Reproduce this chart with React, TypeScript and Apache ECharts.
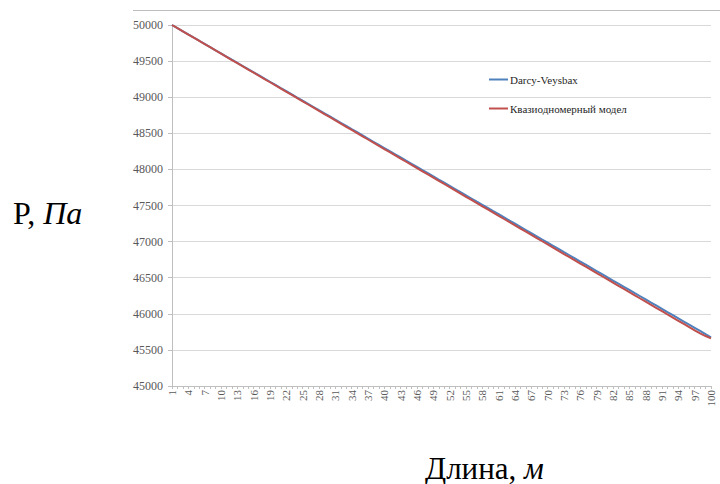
import React, { useEffect, useRef } from "react";
import * as echarts from "echarts";

// Distance along the pipe, m (1..100)
const lengths: string[] = Array.from({ length: 100 }, (_, i) => String(i + 1));

// Pressure, Pa — Darcy–Weisbach solution
const darcyVeysbax: number[] = [
  50000, 49956, 49913, 49869, 49825, 49782, 49738, 49694, 49650, 49607,
  49563, 49519, 49476, 49432, 49388, 49345, 49301, 49257, 49214, 49170,
  49126, 49083, 49039, 48995, 48951, 48908, 48864, 48820, 48777, 48733,
  48689, 48646, 48602, 48558, 48515, 48471, 48427, 48383, 48340, 48296,
  48252, 48209, 48165, 48121, 48078, 48034, 47990, 47947, 47903, 47859,
  47816, 47772, 47728, 47684, 47641, 47597, 47553, 47510, 47466, 47422,
  47379, 47335, 47291, 47248, 47204, 47160, 47116, 47073, 47029, 46985,
  46942, 46898, 46854, 46811, 46767, 46723, 46680, 46636, 46592, 46548,
  46505, 46461, 46417, 46374, 46330, 46286, 46243, 46199, 46155, 46112,
  46068, 46024, 45981, 45937, 45893, 45849, 45806, 45762, 45718, 45675,
];

// Pressure, Pa — quasi-one-dimensional model
const kvaziModel: number[] = [
  50000, 49956, 49912, 49868, 49824, 49780, 49736, 49692, 49648, 49604,
  49560, 49515, 49471, 49427, 49383, 49339, 49295, 49251, 49207, 49163,
  49119, 49075, 49031, 48987, 48943, 48899, 48855, 48811, 48767, 48723,
  48679, 48634, 48590, 48546, 48502, 48458, 48414, 48370, 48326, 48282,
  48238, 48194, 48150, 48106, 48062, 48018, 47974, 47930, 47886, 47842,
  47798, 47753, 47709, 47665, 47621, 47577, 47533, 47489, 47445, 47401,
  47357, 47313, 47269, 47225, 47181, 47137, 47093, 47049, 47005, 46961,
  46917, 46872, 46828, 46784, 46740, 46696, 46652, 46608, 46564, 46520,
  46476, 46432, 46388, 46344, 46300, 46256, 46212, 46168, 46124, 46080,
  46036, 45991, 45947, 45903, 45859, 45815, 45771, 45730, 45692, 45659,
];

const seriesNames = ["Darcy-Veysbax", "Квазиодномерный модел"];
const yTitle = ["P, ", "Па"];
const xTitle = ["Длина, ", "м"];

const SERIF = "'Liberation Serif', 'Times New Roman', serif";

export default function App() {
  const ref = useRef<HTMLDivElement>(null);

  useEffect(() => {
    if (!ref.current) return;
    const chart = echarts.init(ref.current, null, { renderer: "svg" });
    chart.setOption({
      animation: false,
      backgroundColor: "#ffffff",
      textStyle: { fontFamily: SERIF },
      grid: { left: 172, right: 9, top: 25, bottom: 98, containLabel: false },
      legend: {
        orient: "vertical",
        left: 484,
        top: 69,
        itemGap: 18,
        itemWidth: 19,
        itemHeight: 2,
        icon: "rect",
        data: seriesNames,
        textStyle: {
          fontFamily: SERIF,
          fontSize: 11,
          color: "#262626",
          padding: [0, 0, 0, -3],
        },
      },
      xAxis: {
        type: "category",
        data: lengths,
        boundaryGap: false,
        axisLine: { lineStyle: { color: "#bfbfbf" } },
        axisTick: {
          show: true,
          interval: 0,
          length: 3,
          lineStyle: { color: "#bfbfbf" },
        },
        axisLabel: {
          interval: 2,
          rotate: 90,
          fontFamily: SERIF,
          fontSize: 11,
          color: "#595959",
          margin: 4,
        },
        splitLine: { show: false },
      },
      yAxis: {
        type: "value",
        min: 45000,
        max: 50000,
        interval: 500,
        axisLine: { show: true, lineStyle: { color: "#bfbfbf" } },
        axisTick: { show: true, length: 4, lineStyle: { color: "#bfbfbf" } },
        axisLabel: {
          fontFamily: SERIF,
          fontSize: 12,
          color: "#595959",
          margin: 9,
          formatter: (v: number) => String(v),
        },
        splitLine: { lineStyle: { color: "#d9d9d9", width: 1 } },
      },
      series: [
        {
          name: seriesNames[0],
          type: "line",
          data: darcyVeysbax,
          showSymbol: false,
          symbol: "none",
          lineStyle: { color: "#4f81bd", width: 2 },
          itemStyle: { color: "#4f81bd" },
        },
        {
          name: seriesNames[1],
          type: "line",
          data: kvaziModel,
          showSymbol: false,
          symbol: "none",
          lineStyle: { color: "#c0504d", width: 2 },
          itemStyle: { color: "#c0504d" },
        },
      ],
      graphic: [
        {
          type: "line",
          shape: { x1: 133, y1: 10.5, x2: 720, y2: 10.5 },
          style: { stroke: "#bdbdbd", lineWidth: 1 },
          silent: true,
        },
        {
          type: "text",
          x: 13,
          y: 213,
          style: {
            text: `{a|${yTitle[0]}}{b|${yTitle[1]}}`,
            verticalAlign: "middle",
            rich: {
              a: { fontFamily: SERIF, fontSize: 32, fill: "#000" },
              b: { fontFamily: SERIF, fontSize: 32, fontStyle: "italic", fill: "#000" },
            },
          },
        },
        {
          type: "text",
          x: 425,
          y: 468,
          style: {
            text: `{a|${xTitle[0]}}{b|${xTitle[1]}}`,
            verticalAlign: "middle",
            rich: {
              a: { fontFamily: SERIF, fontSize: 31, fill: "#000" },
              b: { fontFamily: SERIF, fontSize: 31, fontStyle: "italic", fill: "#000" },
            },
          },
        },
      ],
    });
    return () => chart.dispose();
  }, []);

  return (
    <div
      ref={ref}
      style={{ position: "absolute", left: 0, top: 0, width: 720, height: 484 }}
    />
  );
}
